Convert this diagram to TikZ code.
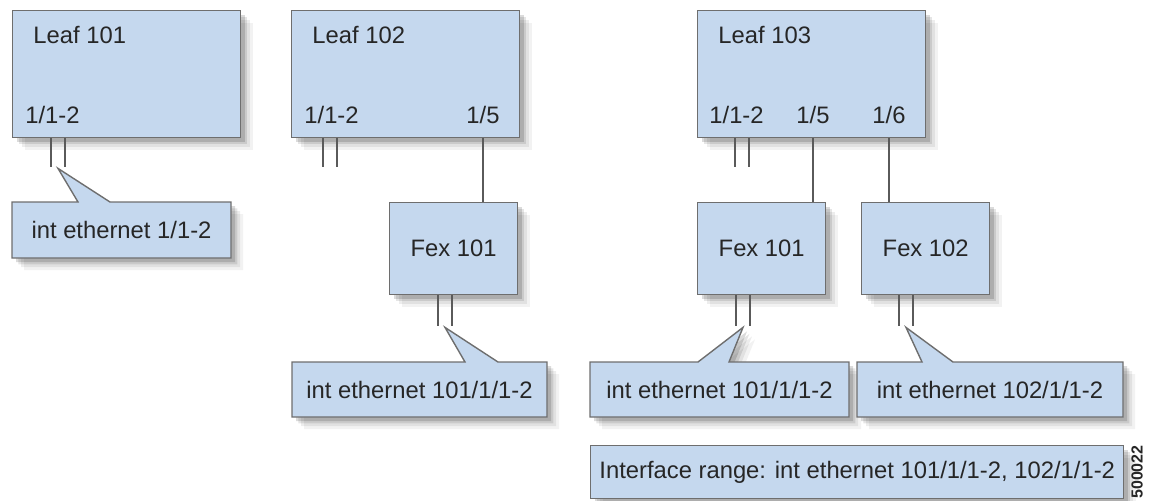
\documentclass[tikz,border=0pt]{standalone}
\usepackage{fontspec}
\setmainfont{Liberation Sans}
\usepackage{xcolor}
\usetikzlibrary{positioning,shadows,calc}

\definecolor{boxblue}{RGB}{197,216,238}
\definecolor{edgegray}{RGB}{110,110,110}
\definecolor{wiregray}{RGB}{90,90,90}

\tikzset{
  callbg/.style={draw=edgegray, line width=0.7pt, fill=boxblue,
    drop shadow={shadow xshift=6pt, shadow yshift=-6pt, opacity=0.05, fill=black},
    drop shadow={shadow xshift=4.5pt, shadow yshift=-4.5pt, opacity=0.07, fill=black},
    drop shadow={shadow xshift=3.2pt, shadow yshift=-3.2pt, opacity=0.1, fill=black},
    drop shadow={shadow xshift=2pt, shadow yshift=-2pt, opacity=0.14, fill=black}},
  devbox/.style={callbg, inner sep=0pt, anchor=north west},
  leafbox/.style={devbox, minimum width=114pt, minimum height=63.5pt},
  fexbox/.style={devbox, minimum width=64pt, minimum height=46pt},
  port/.style={anchor=base west, inner sep=0pt},
  calltext/.style={inner sep=0pt},
  link/.style={draw=wiregray, line width=0.7pt}
}

\begin{document}
\begin{tikzpicture}[x=0.5pt, y=-0.5pt, font=\fontsize{11.9}{14}\selectfont, text=black!85]
	\useasboundingbox (0,0) rectangle (1152,500);

	% leaf switches
	\node[leafbox] (leaf1) at (12,10) {};
	\node[leafbox] (leaf2) at (291,10) {};
	\node[leafbox] (leaf3) at (697,10) {};
	\node[port] (n1) at ([shift={(21,33)}]leaf1.north west) {Leaf 101};
	\node[port] (n2) at ([shift={(21,33)}]leaf2.north west) {Leaf 102};
	\node[port] (n3) at ([shift={(21,33)}]leaf3.north west) {Leaf 103};
	\node[port] (p1a) at ([shift={(13,113)}]leaf1.north west) {1/1-2};
	\node[port] (p2a) at ([shift={(13,113)}]leaf2.north west) {1/1-2};
	\node[port] (p2b) at ([shift={(175,113)}]leaf2.north west) {1/5};
	\node[port] (p3a) at ([shift={(12,113)}]leaf3.north west) {1/1-2};
	\node[port] (p3b) at ([shift={(99,113)}]leaf3.north west) {1/5};
	\node[port] (p3c) at ([shift={(175,113)}]leaf3.north west) {1/6};

	% fabric extenders
	\node[fexbox] (fexa) at (389,202) {Fex 101};
	\node[fexbox] (fexb) at (697,202) {Fex 101};
	\node[fexbox] (fexc) at (861,202) {Fex 102};

	\draw[link] (leaf2.south -| p2b) -- (fexa.north -| p2b);
	\draw[link] (leaf3.south -| p3b) -- (fexb.north -| p3b);
	\draw[link] (leaf3.south -| p3c) -- (fexc.north -| p3c);

	% port pairs
	\foreach \n/\dx/\len in {leaf1/39/29, leaf2/32/29, leaf3/38/29, fexa/49/31, fexb/39/31, fexc/38/31}{
		\draw[link] ([shift={(\dx,0)}]\n.south west) -- ++(0,\len);
		\draw[link] ([shift={(\dx+14,0)}]\n.south west) -- ++(0,\len);
		\coordinate (\n-end) at ([shift={(\dx+7,\len+1)}]\n.south west);
	}

	% callouts
	\coordinate (c1nw) at (12,202);  \coordinate (c1se) at (231,258);
	\coordinate (c2nw) at (292,362); \coordinate (c2se) at (547,417);
	\coordinate (c3nw) at (590,362); \coordinate (c3se) at (849,417);
	\coordinate (c4nw) at (857,362); \coordinate (c4se) at (1123,417);
	\foreach \c/\tip/\ba/\bb in {c1/leaf1-end/66/98, c2/fexa-end/173/206, c3/fexb-end/108/139, c4/fexc-end/65/96}{
		\path[callbg] (\c nw |- \c se) -- (\c nw) -- ([shift={(\ba,0)}]\c nw) -- (\tip)
			-- ([shift={(\bb,0)}]\c nw) -- (\c se |- \c nw) -- (\c se) -- cycle;
	}
	\node[calltext] (c1) at ($(c1nw)!0.5!(c1se)$) {int ethernet 1/1-2};
	\node[calltext] (c2) at ($(c2nw)!0.5!(c2se)$) {int ethernet 101/1/1-2};
	\node[calltext] (c3) at ($(c3nw)!0.5!(c3se)$) {int ethernet 101/1/1-2};
	\node[calltext] (c4) at ($(c4nw)!0.5!(c4se)$) {int ethernet 102/1/1-2};

	\node[devbox, minimum width=266.5pt, minimum height=26.5pt] (range) at (590,445)
		{Interface range: int ethernet 101/1/1-2, 102/1/1-2};
	\node[rotate=90, inner sep=0pt, font=\fontsize{8}{9}\selectfont\bfseries] (fig) at (1137,472) {500022};
\end{tikzpicture}
\end{document}
